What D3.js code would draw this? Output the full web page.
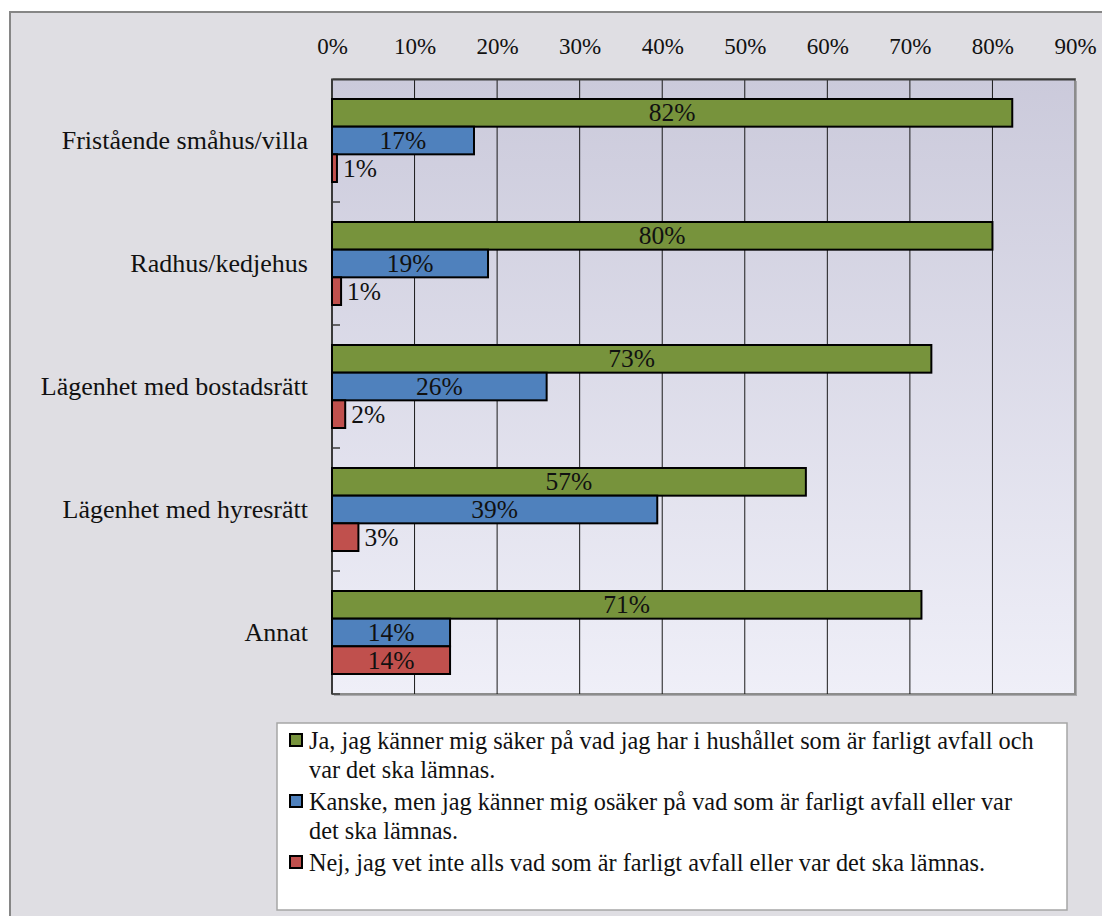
<!DOCTYPE html>
<html>
<head>
<meta charset="utf-8">
<script src="https://cdn.jsdelivr.net/npm/d3@7"></script>
<style>
  html, body { margin: 0; padding: 0; background: #ffffff; }
  svg { display: block; }
</style>
</head>
<body>
<svg id="chart" width="1102" height="916"></svg>
<script>
// Bostadstyp (kategorier) och andel svar per alternativ
const categories = [
  "Fristående småhus/villa",
  "Radhus/kedjehus",
  "Lägenhet med bostadsrätt",
  "Lägenhet med hyresrätt",
  "Annat"
];
const seriesLines = [
  ["Ja, jag känner mig säker på vad jag har i hushållet som är farligt avfall och", "var det ska lämnas."],
  ["Kanske, men jag känner mig osäker på vad som är farligt avfall eller var", "det ska lämnas."],
  ["Nej, jag vet inte alls vad som är farligt avfall eller var det ska lämnas."]
];
const jaValues     = [82.4, 80.0, 72.6, 57.4, 71.4];
const kanskeValues = [17.2, 18.9, 26.0, 39.4, 14.3];
const nejValues    = [0.6, 1.1, 1.6, 3.2, 14.3];
const seriesColors = ["#77933c", "#4f81bd", "#c0504d"];
const xTicks = [0, 10, 20, 30, 40, 50, 60, 70, 80, 90];

const seriesValues = [jaValues, kanskeValues, nejValues];
const FONT = '"Liberation Serif", "Times New Roman", serif';

const svg = d3.select("#chart");

// Diagramytans bakgrund och ram
svg.append("rect")
  .attr("x", 10).attr("y", 12)
  .attr("width", 1110).attr("height", 920)
  .attr("fill", "#dfdee3")
  .attr("stroke", "#868686").attr("stroke-width", 2);

const plot = { left: 332, right: 1075, top: 79, bottom: 694 };

const defs = svg.append("defs");
const grad = defs.append("linearGradient")
  .attr("id", "plotBg").attr("x1", 0).attr("y1", 0).attr("x2", 0).attr("y2", 1);
grad.append("stop").attr("offset", "0%").attr("stop-color", "#cbcadb");
grad.append("stop").attr("offset", "100%").attr("stop-color", "#efeff8");

// Ritytans skugga och fyllning
svg.append("rect")
  .attr("x", plot.left + 2).attr("y", plot.top + 2)
  .attr("width", plot.right - plot.left).attr("height", plot.bottom - plot.top)
  .attr("fill", "#a9a9ad");
svg.append("rect")
  .attr("x", plot.left).attr("y", plot.top)
  .attr("width", plot.right - plot.left).attr("height", plot.bottom - plot.top)
  .attr("fill", "url(#plotBg)")
  .attr("stroke", "#8c8c8c").attr("stroke-width", 2);

const x = d3.scaleLinear().domain([0, 90]).range([plot.left, plot.right]);

const y0 = d3.scaleBand()
  .domain(categories)
  .range([plot.top, plot.bottom])
  .paddingInner(40 / 123)
  .paddingOuter(20 / 123);

const y1 = d3.scaleBand()
  .domain(d3.range(seriesLines.length))
  .range([0, y0.bandwidth()]);

// Stödlinjer
svg.append("g")
  .selectAll("line")
  .data(xTicks.filter(t => t > 0 && t < 90))
  .join("line")
  .attr("x1", d => x(d)).attr("x2", d => x(d))
  .attr("y1", plot.top).attr("y2", plot.bottom)
  .attr("stroke", "#1a1a1a").attr("stroke-width", 1);

// Övre axel med procentetiketter
const xAxis = d3.axisTop(x)
  .tickValues(xTicks)
  .tickFormat(d => d + "%")
  .tickSize(0)
  .tickPadding(25);
const gx = svg.append("g")
  .attr("transform", `translate(0,${plot.top})`)
  .call(xAxis)
  .attr("font-family", null)
  .attr("font-size", null);
gx.select(".domain")
  .attr("stroke", "#3a3a3a").attr("stroke-width", 2);
gx.selectAll("text")
  .style("font-family", FONT)
  .attr("font-size", 23)
  .attr("fill", "#111");

// Vänster axel med kategorier
const boundaries = categories.map(c => y0(c) + y0.bandwidth() + y0.step() * y0.paddingInner() / 2);
svg.append("line")
  .attr("x1", plot.left).attr("x2", plot.left)
  .attr("y1", plot.top).attr("y2", plot.bottom)
  .attr("stroke", "#3a3a3a").attr("stroke-width", 2);
svg.append("g")
  .selectAll("line")
  .data(boundaries)
  .join("line")
  .attr("x1", plot.left).attr("x2", plot.left + 8)
  .attr("y1", d => d).attr("y2", d => d)
  .attr("stroke", "#3a3a3a").attr("stroke-width", 1.5);

svg.append("g")
  .selectAll("text")
  .data(categories)
  .join("text")
  .attr("x", 308)
  .attr("y", d => y0(d) + y0.bandwidth() / 2)
  .attr("dy", "0.33em")
  .attr("text-anchor", "end")
  .attr("fill", "#111")
  .style("font-family", FONT)
  .attr("font-size", 26)
  .text(d => d);

// Staplar
const rows = [];
categories.forEach((c, ci) => {
  seriesValues.forEach((vals, si) => {
    rows.push({ cat: c, s: si, v: vals[ci] });
  });
});

svg.append("g")
  .selectAll("rect")
  .data(rows)
  .join("rect")
  .attr("x", x(0))
  .attr("y", d => y0(d.cat) + y1(d.s))
  .attr("width", d => x(d.v) - x(0))
  .attr("height", y1.bandwidth())
  .attr("fill", d => seriesColors[d.s])
  .attr("stroke", "#000").attr("stroke-width", 2);

// Dataetiketter: centrerade i stapeln, utanför när stapeln är för kort
svg.append("g")
  .selectAll("text")
  .data(rows)
  .join("text")
  .style("font-family", FONT)
  .attr("font-size", 25.5)
  .attr("fill", "#111")
  .attr("y", d => y0(d.cat) + y1(d.s) + y1.bandwidth() / 2)
  .attr("dy", "0.33em")
  .text(d => Math.round(d.v) + "%")
  .each(function (d) {
    const w = this.getComputedTextLength();
    const barW = x(d.v) - x(0);
    const t = d3.select(this);
    if (barW > w + 6) {
      t.attr("x", x(0) + barW / 2).attr("text-anchor", "middle");
    } else {
      t.attr("x", x(d.v) + 6).attr("text-anchor", "start");
    }
  });

// Förklaring
const legend = svg.append("g");
legend.append("rect")
  .attr("x", 277).attr("y", 723)
  .attr("width", 790).attr("height", 187)
  .attr("fill", "#ffffff")
  .attr("stroke", "#a6a6a6").attr("stroke-width", 1.5);

const legendTextX = 309;
const lineHeight = 29;
let baseline = 749;

seriesLines.forEach((lines, i) => {
  legend.append("rect")
    .attr("x", 290).attr("y", baseline - 15)
    .attr("width", 12).attr("height", 12)
    .attr("fill", seriesColors[i])
    .attr("stroke", "#000").attr("stroke-width", 2);

  const t = legend.append("text")
    .attr("fill", "#111")
    .style("font-family", FONT)
    .attr("font-size", 24.3);
  lines.forEach((ln, li) => {
    t.append("tspan")
      .attr("x", legendTextX)
      .attr("y", baseline + li * lineHeight)
      .text(ln);
  });
  baseline += lines.length * lineHeight + 3;
});
</script>
</body>
</html>
